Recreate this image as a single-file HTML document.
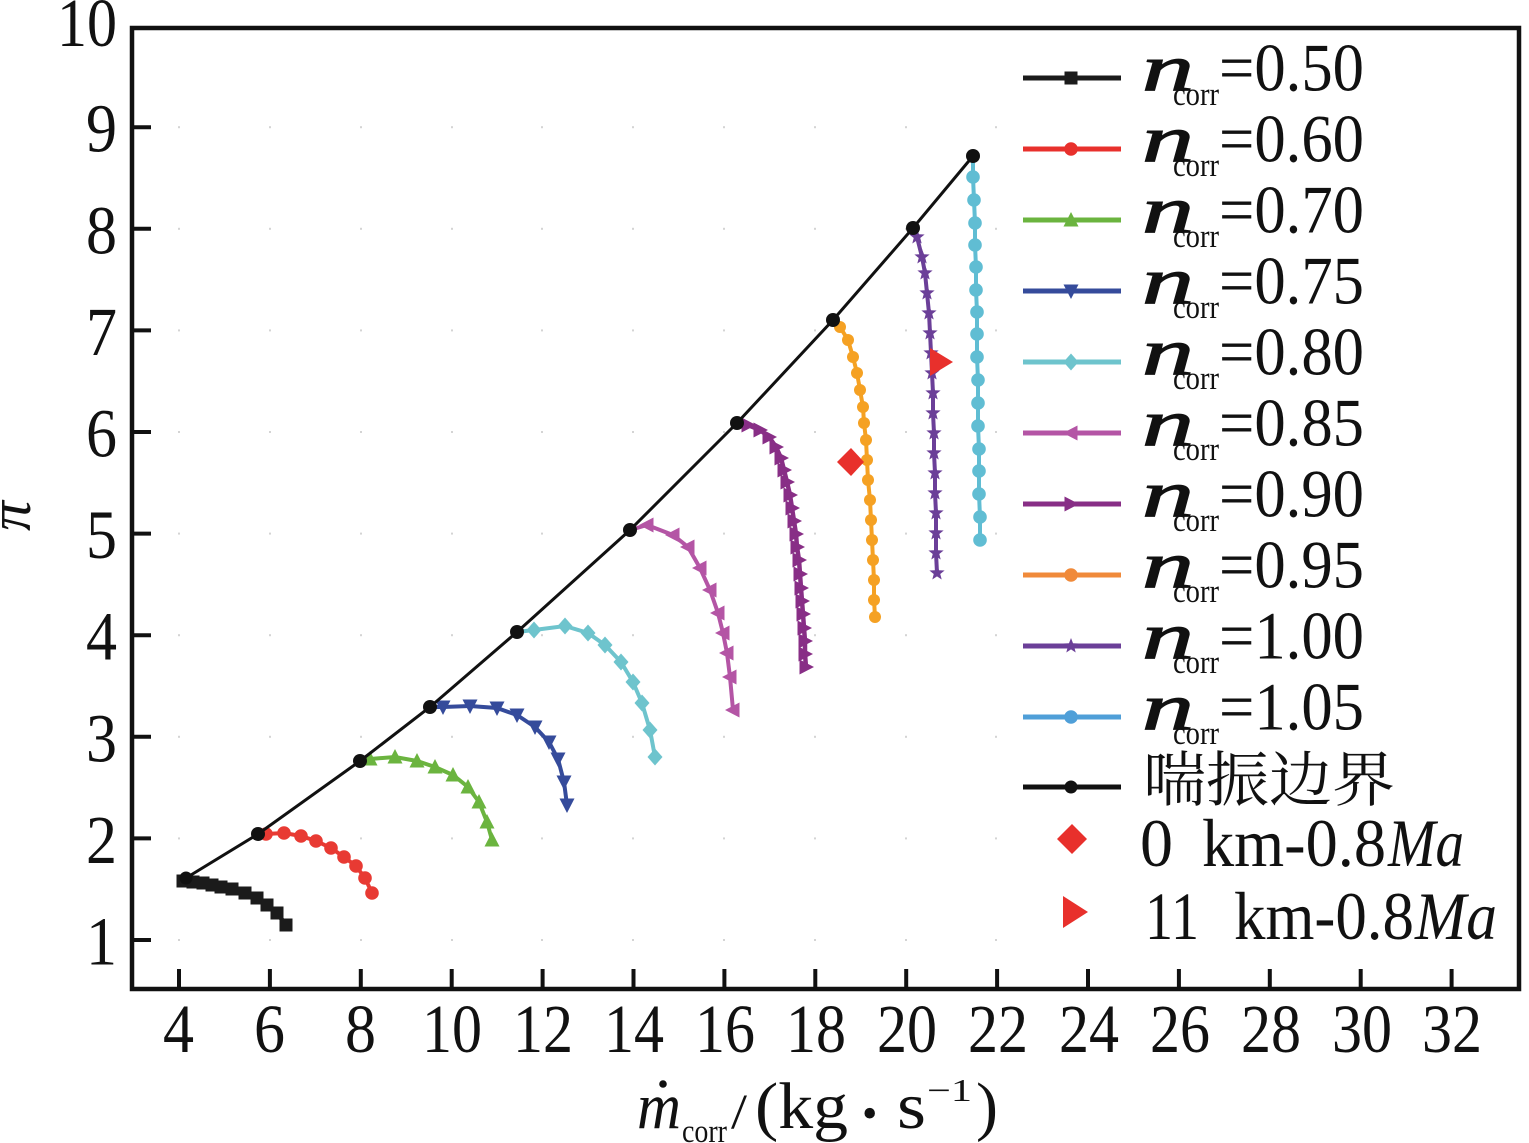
<!DOCTYPE html>
<html><head><meta charset="utf-8"><style>
html,body{margin:0;padding:0;background:#fff;}
svg{display:block;}
text{font-family:"Liberation Serif","Times New Roman",serif;fill:#111;}
text.cjk{font-family:"Liberation Serif","Noto Serif CJK SC","Noto Sans CJK SC",serif;}
</style></head><body>
<svg width="1529" height="1143" viewBox="0 0 1529 1143" xmlns="http://www.w3.org/2000/svg" font-family="Liberation Serif, serif">
<defs>
<rect id="sq" x="-6.5" y="-6.5" width="13" height="13"/>
<circle id="ci" r="6.8"/>
<circle id="cs" r="6"/>
<polygon id="tu" points="0,-8 7.5,6.5 -7.5,6.5"/>
<polygon id="td" points="-7.5,-6.5 7.5,-6.5 0,8"/>
<polygon id="dm" points="0,-8.5 7.5,0 0,8.5 -7.5,0"/>
<polygon id="tl" points="-8,0 6.5,-7.5 6.5,7.5"/>
<polygon id="tr" points="8,0 -6.5,-7.5 -6.5,7.5"/>
<polygon id="st" points="0,-8 2.01,-2.78 7.61,-2.47 3.26,1.06 4.70,6.47 0,3.43 -4.70,6.47 -3.26,1.06 -7.61,-2.47 -2.01,-2.78"/>
</defs>

<!-- grid dots -->
<g fill="#d4d4d4">
<g id="gd">
<rect x="178" y="939" width="2" height="2"/><rect x="269" y="939" width="2" height="2"/><rect x="360" y="939" width="2" height="2"/><rect x="451" y="939" width="2" height="2"/><rect x="541" y="939" width="2" height="2"/><rect x="632" y="939" width="2" height="2"/><rect x="723" y="939" width="2" height="2"/><rect x="814" y="939" width="2" height="2"/><rect x="905" y="939" width="2" height="2"/><rect x="995" y="939" width="2" height="2"/>
</g>
<use href="#gd" y="-101.6"/><use href="#gd" y="-203.2"/><use href="#gd" y="-304.8"/><use href="#gd" y="-406.4"/><use href="#gd" y="-508"/><use href="#gd" y="-609.6"/><use href="#gd" y="-711.2"/><use href="#gd" y="-812.8"/>
</g>

<!-- series -->
<g fill="#1b1b1b" stroke="none">
<polyline points="183,881 193,882 203,883 212,885 221,887 232,889 245,893 257,898 267,905 277,913 286,925" fill="none" stroke="#1b1b1b" stroke-width="4.5"/>
<use href="#sq" x="183" y="881"/><use href="#sq" x="193" y="882"/><use href="#sq" x="203" y="883"/><use href="#sq" x="212" y="885"/><use href="#sq" x="221" y="887"/><use href="#sq" x="232" y="889"/><use href="#sq" x="245" y="893"/><use href="#sq" x="257" y="898"/><use href="#sq" x="267" y="905"/><use href="#sq" x="277" y="913"/><use href="#sq" x="286" y="925"/>
</g>
<g fill="#E83A33">
<polyline points="258,834 266,834 284,833 301,836 316,841 331,848 344,857 356,866 365,878 372,893" fill="none" stroke="#E83A33" stroke-width="4"/>
<use href="#ci" x="266" y="834"/><use href="#ci" x="284" y="833"/><use href="#ci" x="301" y="836"/><use href="#ci" x="316" y="841"/><use href="#ci" x="331" y="848"/><use href="#ci" x="344" y="857"/><use href="#ci" x="356" y="866"/><use href="#ci" x="365" y="878"/><use href="#ci" x="372" y="893"/>
</g>
<g fill="#6BB43F">
<polyline points="360,761 370,759 395,757 417,761 435,767 453,775 468,787 479,802 487,822 492,840" fill="none" stroke="#6BB43F" stroke-width="4"/>
<use href="#tu" x="370" y="759"/><use href="#tu" x="395" y="757"/><use href="#tu" x="417" y="761"/><use href="#tu" x="435" y="767"/><use href="#tu" x="453" y="775"/><use href="#tu" x="468" y="787"/><use href="#tu" x="479" y="802"/><use href="#tu" x="487" y="822"/><use href="#tu" x="492" y="840"/>
</g>
<g fill="#354B9B">
<polyline points="430,707 443,707 470,706 497,708 517,715 535,727 549,742 558,759 564,782 567,805" fill="none" stroke="#354B9B" stroke-width="4"/>
<use href="#td" x="443" y="707"/><use href="#td" x="470" y="706"/><use href="#td" x="497" y="708"/><use href="#td" x="517" y="715"/><use href="#td" x="535" y="727"/><use href="#td" x="549" y="742"/><use href="#td" x="558" y="759"/><use href="#td" x="564" y="782"/><use href="#td" x="567" y="805"/>
</g>
<g fill="#6EC4CD">
<polyline points="517,632 534,630 565,626 588,633 605,645 621,662 633,682 642,703 650,730 655,757" fill="none" stroke="#6EC4CD" stroke-width="4"/>
<use href="#dm" x="534" y="630"/><use href="#dm" x="565" y="626"/><use href="#dm" x="588" y="633"/><use href="#dm" x="605" y="645"/><use href="#dm" x="621" y="662"/><use href="#dm" x="633" y="682"/><use href="#dm" x="642" y="703"/><use href="#dm" x="650" y="730"/><use href="#dm" x="655" y="757"/>
</g>
<g fill="#B455A5">
<polyline points="630,530 647,525 673,535 688,547 700,568 710,590 718,613 723,633 727,653 730,677 733,710" fill="none" stroke="#B455A5" stroke-width="4"/>
<use href="#tl" x="647" y="525"/><use href="#tl" x="673" y="535"/><use href="#tl" x="688" y="547"/><use href="#tl" x="700" y="568"/><use href="#tl" x="710" y="590"/><use href="#tl" x="718" y="613"/><use href="#tl" x="723" y="633"/><use href="#tl" x="727" y="653"/><use href="#tl" x="730" y="677"/><use href="#tl" x="733" y="710"/>
</g>
<g fill="#882E86">
<polyline points="737,423 748,425 760,430 769,437 776,447 781,458 784,470 787,482 790,495 792,508 794,521 796,534 797,547 799,560 800,574 801,588 802,601 803,614 804,628 805,641 805,654 806,667" fill="none" stroke="#882E86" stroke-width="4.5"/>
<use href="#tr" x="748" y="425"/><use href="#tr" x="760" y="430"/><use href="#tr" x="769" y="437"/><use href="#tr" x="776" y="447"/><use href="#tr" x="781" y="458"/><use href="#tr" x="784" y="470"/><use href="#tr" x="787" y="482"/><use href="#tr" x="790" y="495"/><use href="#tr" x="792" y="508"/><use href="#tr" x="794" y="521"/><use href="#tr" x="796" y="534"/><use href="#tr" x="797" y="547"/><use href="#tr" x="799" y="560"/><use href="#tr" x="800" y="574"/><use href="#tr" x="801" y="588"/><use href="#tr" x="802" y="601"/><use href="#tr" x="803" y="614"/><use href="#tr" x="804" y="628"/><use href="#tr" x="805" y="641"/><use href="#tr" x="805" y="654"/><use href="#tr" x="806" y="667"/>
</g>
<g fill="#F5A123">
<polyline points="833,320 840,327 848,340 853,357 857,373 860,390 863,407 864,423 866,440 867,460 868,480 870,500 871,520 872,540 873,560 874,580 874,600 875,617" fill="none" stroke="#F5A123" stroke-width="4"/>
<use href="#cs" x="840" y="327"/><use href="#cs" x="848" y="340"/><use href="#cs" x="853" y="357"/><use href="#cs" x="857" y="373"/><use href="#cs" x="860" y="390"/><use href="#cs" x="863" y="407"/><use href="#cs" x="864" y="423"/><use href="#cs" x="866" y="440"/><use href="#cs" x="867" y="460"/><use href="#cs" x="868" y="480"/><use href="#cs" x="870" y="500"/><use href="#cs" x="871" y="520"/><use href="#cs" x="872" y="540"/><use href="#cs" x="873" y="560"/><use href="#cs" x="874" y="580"/><use href="#cs" x="874" y="600"/><use href="#cs" x="875" y="617"/>
</g>
<g fill="#6B3F98">
<polyline points="913,228 917,237 922,257 925,273 927,293 929,313 930,333 931,353 932,373 933,393 933,413 934,433 934,453 935,473 935,493 936,513 936,533 936,553 937,573" fill="none" stroke="#6B3F98" stroke-width="4"/>
<use href="#st" x="917" y="237"/><use href="#st" x="922" y="257"/><use href="#st" x="925" y="273"/><use href="#st" x="927" y="293"/><use href="#st" x="929" y="313"/><use href="#st" x="930" y="333"/><use href="#st" x="931" y="353"/><use href="#st" x="932" y="373"/><use href="#st" x="933" y="393"/><use href="#st" x="933" y="413"/><use href="#st" x="934" y="433"/><use href="#st" x="934" y="453"/><use href="#st" x="935" y="473"/><use href="#st" x="935" y="493"/><use href="#st" x="936" y="513"/><use href="#st" x="936" y="533"/><use href="#st" x="936" y="553"/><use href="#st" x="937" y="573"/>
</g>
<g fill="#60BDD3">
<polyline points="973,156 973,177 974,200 975,223 975,245 976,267 976,290 977,312 977,334 977,357 978,380 978,403 978,426 979,449 979,471 979,494 980,517 980,540" fill="none" stroke="#60BDD3" stroke-width="4"/>
<use href="#ci" x="973" y="177"/><use href="#ci" x="974" y="200"/><use href="#ci" x="975" y="223"/><use href="#ci" x="975" y="245"/><use href="#ci" x="976" y="267"/><use href="#ci" x="976" y="290"/><use href="#ci" x="977" y="312"/><use href="#ci" x="977" y="334"/><use href="#ci" x="977" y="357"/><use href="#ci" x="978" y="380"/><use href="#ci" x="978" y="403"/><use href="#ci" x="978" y="426"/><use href="#ci" x="979" y="449"/><use href="#ci" x="979" y="471"/><use href="#ci" x="979" y="494"/><use href="#ci" x="980" y="517"/><use href="#ci" x="980" y="540"/>
</g>

<!-- surge line -->
<g fill="#111">
<polyline points="186,878 258,834 360,761 430,707 517,632 630,530 737,423 833,320 913,228 973,156" fill="none" stroke="#111" stroke-width="3"/>
<circle cx="186" cy="878" r="6.5"/><circle cx="258" cy="834" r="7"/><circle cx="360" cy="761" r="7"/><circle cx="430" cy="707" r="7"/><circle cx="517" cy="632" r="7"/><circle cx="630" cy="530" r="7"/><circle cx="737" cy="423" r="7"/><circle cx="833" cy="320" r="7"/><circle cx="913" cy="228" r="7"/><circle cx="973" cy="156" r="7"/>
</g>

<!-- special points -->
<polygon points="851,448 864,462 851,476 837,462" fill="#E8302C"/>
<polygon points="930,348 953,362 930,376" fill="#E8302C"/>

<!-- axes box -->
<rect x="132" y="28" width="1387" height="961" fill="none" stroke="#111" stroke-width="4.5"/>
<g stroke="#111" stroke-width="4">
<line x1="132" y1="940" x2="151" y2="940"/><line x1="132" y1="838.4" x2="151" y2="838.4"/><line x1="132" y1="736.8" x2="151" y2="736.8"/><line x1="132" y1="635.2" x2="151" y2="635.2"/><line x1="132" y1="533.6" x2="151" y2="533.6"/><line x1="132" y1="432" x2="151" y2="432"/><line x1="132" y1="330.4" x2="151" y2="330.4"/><line x1="132" y1="228.8" x2="151" y2="228.8"/><line x1="132" y1="127.2" x2="151" y2="127.2"/>
<line x1="179" y1="989" x2="179" y2="969"/><line x1="269.9" y1="989" x2="269.9" y2="969"/><line x1="360.8" y1="989" x2="360.8" y2="969"/><line x1="451.7" y1="989" x2="451.7" y2="969"/><line x1="542.6" y1="989" x2="542.6" y2="969"/><line x1="633.5" y1="989" x2="633.5" y2="969"/><line x1="724.4" y1="989" x2="724.4" y2="969"/><line x1="815.3" y1="989" x2="815.3" y2="969"/><line x1="906.2" y1="989" x2="906.2" y2="969"/><line x1="997.1" y1="989" x2="997.1" y2="969"/><line x1="1088" y1="989" x2="1088" y2="969"/><line x1="1178.9" y1="989" x2="1178.9" y2="969"/><line x1="1269.8" y1="989" x2="1269.8" y2="969"/><line x1="1360.7" y1="989" x2="1360.7" y2="969"/><line x1="1451.6" y1="989" x2="1451.6" y2="969"/>
</g>

<!-- y tick labels -->
<g font-size="69">
<text x="57" y="46" textLength="60" lengthAdjust="spacingAndGlyphs">10</text>
<text x="86" y="151.7" textLength="31" lengthAdjust="spacingAndGlyphs">9</text>
<text x="86" y="253.3" textLength="31" lengthAdjust="spacingAndGlyphs">8</text>
<text x="86" y="354.9" textLength="31" lengthAdjust="spacingAndGlyphs">7</text>
<text x="86" y="456.5" textLength="31" lengthAdjust="spacingAndGlyphs">6</text>
<text x="86" y="558.1" textLength="31" lengthAdjust="spacingAndGlyphs">5</text>
<text x="86" y="659.7" textLength="31" lengthAdjust="spacingAndGlyphs">4</text>
<text x="86" y="761.3" textLength="31" lengthAdjust="spacingAndGlyphs">3</text>
<text x="86" y="862.9" textLength="31" lengthAdjust="spacingAndGlyphs">2</text>
<text x="86" y="964.5" textLength="31" lengthAdjust="spacingAndGlyphs">1</text>
</g>
<!-- x tick labels -->
<g font-size="69">
<text x="163" y="1052" textLength="31" lengthAdjust="spacingAndGlyphs">4</text>
<text x="254" y="1052" textLength="31" lengthAdjust="spacingAndGlyphs">6</text>
<text x="345" y="1052" textLength="31" lengthAdjust="spacingAndGlyphs">8</text>
<text x="422" y="1052" textLength="60" lengthAdjust="spacingAndGlyphs">10</text>
<text x="513" y="1052" textLength="60" lengthAdjust="spacingAndGlyphs">12</text>
<text x="604" y="1052" textLength="60" lengthAdjust="spacingAndGlyphs">14</text>
<text x="695" y="1052" textLength="60" lengthAdjust="spacingAndGlyphs">16</text>
<text x="786" y="1052" textLength="60" lengthAdjust="spacingAndGlyphs">18</text>
<text x="877" y="1052" textLength="60" lengthAdjust="spacingAndGlyphs">20</text>
<text x="968" y="1052" textLength="60" lengthAdjust="spacingAndGlyphs">22</text>
<text x="1059" y="1052" textLength="60" lengthAdjust="spacingAndGlyphs">24</text>
<text x="1150" y="1052" textLength="60" lengthAdjust="spacingAndGlyphs">26</text>
<text x="1241" y="1052" textLength="60" lengthAdjust="spacingAndGlyphs">28</text>
<text x="1332" y="1052" textLength="60" lengthAdjust="spacingAndGlyphs">30</text>
<text x="1422" y="1052" textLength="60" lengthAdjust="spacingAndGlyphs">32</text>
</g>

<!-- axis labels -->
<text x="637" y="1128" font-size="66" font-style="italic" textLength="44" lengthAdjust="spacingAndGlyphs">m</text>
<circle cx="663" cy="1084" r="3.8" fill="#111"/>
<text x="682" y="1142" font-size="33" textLength="45" lengthAdjust="spacingAndGlyphs">corr</text>
<text x="731" y="1128" font-size="50" textLength="16" lengthAdjust="spacingAndGlyphs">/</text>
<text x="755" y="1128" font-size="66" textLength="93" lengthAdjust="spacingAndGlyphs">(kg</text>
<text x="862" y="1128" font-size="44">•</text>
<text x="897" y="1128" font-size="66" textLength="29" lengthAdjust="spacingAndGlyphs">s</text>
<text x="927" y="1101" font-size="32" textLength="45" lengthAdjust="spacingAndGlyphs">−1</text>
<text x="976" y="1128" font-size="66" textLength="22" lengthAdjust="spacingAndGlyphs">)</text>
<text transform="translate(30,516) rotate(-90)" text-anchor="middle" font-size="60" font-style="italic">π</text>

<!-- legend -->
<g stroke-width="5" fill="none">
<line x1="1023" y1="78" x2="1121" y2="78" stroke="#1b1b1b"/>
<line x1="1023" y1="149" x2="1121" y2="149" stroke="#E8302C"/>
<line x1="1023" y1="220" x2="1121" y2="220" stroke="#6BB43F"/>
<line x1="1023" y1="291" x2="1121" y2="291" stroke="#354B9B"/>
<line x1="1023" y1="362" x2="1121" y2="362" stroke="#6EC4CD"/>
<line x1="1023" y1="433" x2="1121" y2="433" stroke="#B455A5"/>
<line x1="1023" y1="504" x2="1121" y2="504" stroke="#882E86"/>
<line x1="1023" y1="575" x2="1121" y2="575" stroke="#F08A3A"/>
<line x1="1023" y1="646" x2="1121" y2="646" stroke="#6B3F98"/>
<line x1="1023" y1="717" x2="1121" y2="717" stroke="#4F9FD8"/>
<line x1="1023" y1="787" x2="1121" y2="787" stroke="#111"/>
</g>
<use href="#sq" x="1071" y="78" fill="#1b1b1b"/>
<use href="#ci" x="1071" y="149" fill="#E8302C"/>
<use href="#tu" x="1071" y="220" fill="#6BB43F"/>
<use href="#td" x="1071" y="291" fill="#354B9B"/>
<use href="#dm" x="1071" y="362" fill="#6EC4CD"/>
<use href="#tl" x="1071" y="433" fill="#B455A5"/>
<use href="#tr" x="1071" y="504" fill="#882E86"/>
<use href="#ci" x="1071" y="575" fill="#F08A3A"/>
<use href="#st" x="1071" y="646" fill="#6B3F98"/>
<use href="#ci" x="1071" y="717" fill="#4F9FD8"/>
<circle cx="1071" cy="787" r="6.5" fill="#111"/>
<polygon points="1072,824 1087,839 1072,854 1057,839" fill="#E8302C"/>
<polygon points="1063,896 1088,912 1063,928" fill="#E8302C"/>

<g>
<g id="lg0">
<text x="1142" y="90.5" font-size="66" font-style="italic" stroke="#111" stroke-width="1.2" textLength="52" lengthAdjust="spacingAndGlyphs">n</text>
<text x="1173" y="105" font-size="33" textLength="46" lengthAdjust="spacingAndGlyphs">corr</text>
</g>
<text x="1219" y="90.5" font-size="68" textLength="145" lengthAdjust="spacingAndGlyphs">=0.50</text>
<use href="#lg0" y="71"/><text x="1219" y="161.5" font-size="68" textLength="145" lengthAdjust="spacingAndGlyphs">=0.60</text>
<use href="#lg0" y="142"/><text x="1219" y="232.5" font-size="68" textLength="145" lengthAdjust="spacingAndGlyphs">=0.70</text>
<use href="#lg0" y="213"/><text x="1219" y="303.5" font-size="68" textLength="145" lengthAdjust="spacingAndGlyphs">=0.75</text>
<use href="#lg0" y="284"/><text x="1219" y="374.5" font-size="68" textLength="145" lengthAdjust="spacingAndGlyphs">=0.80</text>
<use href="#lg0" y="355"/><text x="1219" y="445.5" font-size="68" textLength="145" lengthAdjust="spacingAndGlyphs">=0.85</text>
<use href="#lg0" y="426"/><text x="1219" y="516.5" font-size="68" textLength="145" lengthAdjust="spacingAndGlyphs">=0.90</text>
<use href="#lg0" y="497"/><text x="1219" y="587.5" font-size="68" textLength="145" lengthAdjust="spacingAndGlyphs">=0.95</text>
<use href="#lg0" y="568"/><text x="1219" y="658.5" font-size="68" textLength="145" lengthAdjust="spacingAndGlyphs">=1.00</text>
<use href="#lg0" y="639"/><text x="1219" y="729.5" font-size="68" textLength="145" lengthAdjust="spacingAndGlyphs">=1.05</text>
</g>
<text class="cjk" x="1143" y="801" font-size="60" textLength="252" lengthAdjust="spacingAndGlyphs">喘振边界</text>

<text x="1140" y="866" font-size="68" textLength="33" lengthAdjust="spacingAndGlyphs">0</text>
<text x="1202" y="866" font-size="68" textLength="184" lengthAdjust="spacingAndGlyphs">km-0.8</text>
<text x="1388" y="866" font-size="68" font-style="italic" textLength="76" lengthAdjust="spacingAndGlyphs">Ma</text>
<text x="1145" y="939" font-size="68" textLength="54" lengthAdjust="spacingAndGlyphs">11</text>
<text x="1234" y="939" font-size="68" textLength="180" lengthAdjust="spacingAndGlyphs">km-0.8</text>
<text x="1415" y="939" font-size="68" font-style="italic" textLength="82" lengthAdjust="spacingAndGlyphs">Ma</text>
</svg>
</body></html>
